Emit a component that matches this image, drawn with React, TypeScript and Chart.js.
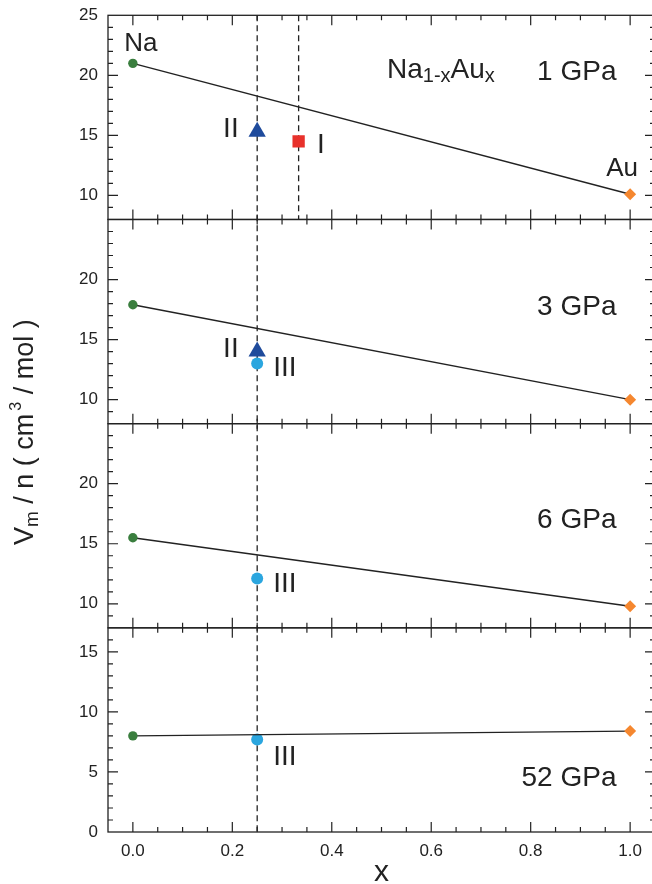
import React, { useEffect, useRef } from 'react';
import { Chart, registerables } from 'chart.js';

Chart.register(...registerables);

// ---- data ----
const panelLabels = ['1 GPa', '3 GPa', '6 GPa', '52 GPa'];
const panelYMin = [8, 8, 8, 0];
const panelYMax = [25, 25, 25, 17];
const panelYTicks = [
  [10, 15, 20, 25],
  [10, 15, 20],
  [10, 15, 20],
  [0, 5, 10, 15],
];
const xTickValues = [0, 0.2, 0.4, 0.6, 0.8, 1.0];

// end members (x = 0 is Na, x = 1 is Au)
const xNa = 0;
const xAu = 1;
const naVolume = [21.0, 17.9, 15.5, 8.0];
const auVolume = [10.1, 10.0, 9.8, 8.4];

// intermediate phases
const xPhaseI = 1 / 3;
const phaseIVolume = [14.5, null, null, null];
const xPhaseII = 0.25;
const phaseIIVolume = [15.3, 14.0, null, null];
const xPhaseIII = 0.25;
const phaseIIIVolume = [null, 13.0, 12.1, 7.7];

// composition guide lines and the last panel each one reaches
const guideX = [0.25, 1 / 3];
const guideLastPanel = [3, 0];

// ---- style ----
const FONT = "'Liberation Sans', Arial, Helvetica, sans-serif";
const INK = '#222222';
const naColor = '#3a7e3e';
const auColor = '#f5872f';
const phaseIColor = '#e8312b';
const phaseIIColor = '#1f4b9c';
const phaseIIIColor = '#2ba6df';

const panelId = (p: number) => `y${p}`;

type Note = { panel: number; text: string; x: number; y: number; dx: number; dy: number; align: CanvasTextAlign; size: number };

const notes: Note[] = [
  { panel: 0, text: 'Na', x: xNa, y: naVolume[0], dx: 8, dy: -12.5, align: 'center', size: 26 },
  { panel: 0, text: 'Au', x: xAu, y: auVolume[0], dx: -8, dy: -18, align: 'center', size: 26 },
  { panel: 0, text: 'II', x: xPhaseII, y: phaseIIVolume[0] as number, dx: -18.5, dy: 5, align: 'right', size: 28 },
  { panel: 0, text: 'I', x: xPhaseI, y: phaseIVolume[0] as number, dx: 18.5, dy: 11.5, align: 'left', size: 28 },
  { panel: 1, text: 'II', x: xPhaseII, y: phaseIIVolume[1] as number, dx: -18.5, dy: 5, align: 'right', size: 28 },
  { panel: 1, text: 'III', x: xPhaseIII, y: phaseIIIVolume[1] as number, dx: 16, dy: 12, align: 'left', size: 28 },
  { panel: 2, text: 'III', x: xPhaseIII, y: phaseIIIVolume[2] as number, dx: 16, dy: 13.5, align: 'left', size: 28 },
  { panel: 3, text: 'III', x: xPhaseIII, y: phaseIIIVolume[3] as number, dx: 16, dy: 25, align: 'left', size: 28 },
];

// baseline of each pressure label measured from its panel top
const panelLabelBaseline = [64.7, 95.7, 104.5, 158.4];

function buildDatasets() {
  const sets: any[] = [];
  panelLabels.forEach((_, p) => {
    sets.push({
      label: `tie line ${panelLabels[p]}`,
      data: [
        { x: xNa, y: naVolume[p] },
        { x: xAu, y: auVolume[p] },
      ],
      yAxisID: panelId(p),
      showLine: true,
      borderColor: INK,
      borderWidth: 1.4,
      pointStyle: ['circle', 'rectRot'],
      pointRadius: [4.7, 6],
      pointBackgroundColor: [naColor, auColor],
      pointBorderWidth: 0,
    });
    const phase = (x: number, vals: (number | null)[], style: string, r: number, color: string, name: string) => {
      const v = vals[p];
      if (v == null) return;
      sets.push({
        label: `${name} ${panelLabels[p]}`,
        data: [{ x, y: v }],
        yAxisID: panelId(p),
        showLine: false,
        pointStyle: style,
        pointRadius: r,
        pointBackgroundColor: color,
        pointBorderWidth: 0,
      });
    };
    phase(xPhaseIII, phaseIIIVolume, 'circle', 6, phaseIIIColor, 'III');
    phase(xPhaseII, phaseIIVolume, 'triangle', 10, phaseIIColor, 'II');
    phase(xPhaseI, phaseIVolume, 'rect', 8.7, phaseIColor, 'I');
  });
  return sets;
}

function buildScales() {
  const scales: any = {
    x: {
      type: 'linear',
      position: 'bottom',
      min: -0.05,
      max: 1.05,
      grid: { display: false, drawTicks: false },
      border: { display: false },
      ticks: {
        autoSkip: false,
        maxRotation: 0,
        padding: 9,
        color: INK,
        font: { family: FONT, size: 17 },
        callback: (v: any) => Number(v).toFixed(1),
      },
      afterBuildTicks: (s: any) => {
        s.ticks = xTickValues.map((value) => ({ value }));
      },
      afterFit: (s: any) => {
        s.height = 52;
        s.paddingLeft = 0;
        s.paddingRight = 0;
      },
    },
  };
  // later-declared left axes are placed higher in the stack
  for (let p = panelLabels.length - 1; p >= 0; p--) {
    scales[panelId(p)] = {
      type: 'linear',
      position: 'left',
      stack: 'panels',
      stackWeight: 1,
      offset: false,
      min: panelYMin[p],
      max: panelYMax[p],
      grid: { display: false, drawTicks: false },
      border: { display: false },
      ticks: {
        autoSkip: false,
        padding: 10,
        color: INK,
        font: { family: FONT, size: 17 },
      },
      afterBuildTicks: (s: any) => {
        s.ticks = panelYTicks[p].map((value) => ({ value }));
      },
      afterFit: (s: any) => {
        s.width = 108;
        s.paddingTop = 0;
        s.paddingBottom = 0;
      },
    };
  }
  return scales;
}

const panelFrame = {
  id: 'panelFrame',
  beforeDatasetsDraw(chart: any) {
    const { ctx, chartArea: ca, scales } = chart;
    const xs = scales.x;
    ctx.save();
    // dashed composition guides
    ctx.strokeStyle = INK;
    ctx.lineWidth = 1.3;
    ctx.setLineDash([6, 4]);
    guideX.forEach((gx, i) => {
      const px = xs.getPixelForValue(gx);
      const bottom = scales[panelId(guideLastPanel[i])].bottom;
      ctx.beginPath();
      ctx.moveTo(px, ca.top);
      ctx.lineTo(px, bottom);
      ctx.stroke();
    });
    ctx.setLineDash([]);
    ctx.restore();
  },
  afterDatasetsDraw(chart: any) {
    const { ctx, chartArea: ca, scales } = chart;
    const xs = scales.x;
    ctx.save();
    ctx.strokeStyle = INK;
    ctx.lineWidth = 1.3;
    // frames
    panelLabels.forEach((_, p) => {
      const ys = scales[panelId(p)];
      ctx.strokeRect(ca.left, ys.top, ca.right - ca.left, ys.bottom - ys.top);
    });
    // inward ticks
    ctx.lineWidth = 1.2;
    ctx.beginPath();
    panelLabels.forEach((_, p) => {
      const ys = scales[panelId(p)];
      for (let v = panelYMin[p] + 1; v < panelYMax[p]; v++) {
        const py = ys.getPixelForValue(v);
        const len = v % 5 === 0 ? 10 : 5;
        ctx.moveTo(ca.left, py);
        ctx.lineTo(ca.left + len, py);
        ctx.moveTo(ca.right, py);
        ctx.lineTo(ca.right - len, py);
      }
      for (let i = 0; i <= 20; i++) {
        const px = xs.getPixelForValue(i * 0.05);
        const len = i % 4 === 0 ? 10 : 5;
        ctx.moveTo(px, ys.top);
        ctx.lineTo(px, ys.top + len);
        ctx.moveTo(px, ys.bottom);
        ctx.lineTo(px, ys.bottom - len);
      }
    });
    ctx.stroke();

    ctx.fillStyle = INK;
    ctx.textBaseline = 'alphabetic';
    // point annotations
    notes.forEach((n) => {
      const ys = scales[panelId(n.panel)];
      ctx.font = `${n.size}px ${FONT}`;
      ctx.textAlign = n.align;
      ctx.fillText(n.text, xs.getPixelForValue(n.x) + n.dx, ys.getPixelForValue(n.y) + n.dy);
    });
    // pressure labels
    ctx.font = `28px ${FONT}`;
    ctx.textAlign = 'right';
    panelLabels.forEach((label, p) => {
      const ys = scales[panelId(p)];
      ctx.fillText(label, ca.right - 38.5, ys.top + panelLabelBaseline[p]);
    });
    // compound formula Na(1-x)Au(x)
    ctx.textAlign = 'left';
    const baseY = scales[panelId(0)].top + 63;
    let cx = ca.right - 268;
    const seg = (t: string, size: number, dy: number) => {
      ctx.font = `${size}px ${FONT}`;
      ctx.fillText(t, cx, baseY + dy);
      cx += ctx.measureText(t).width;
    };
    seg('Na', 28, 0);
    seg('1-x', 20, 4);
    seg('Au', 28, 0);
    seg('x', 20, 4);

    // x axis title
    ctx.font = `30px ${FONT}`;
    ctx.textAlign = 'center';
    ctx.fillText('x', xs.getPixelForValue(0.5), 880.5);

    // y axis title, rotated
    ctx.save();
    ctx.translate(33, 545);
    ctx.rotate(-Math.PI / 2);
    ctx.textAlign = 'left';
    let tx = 0;
    const rseg = (t: string, size: number, dy: number, gap = 0) => {
      tx += gap;
      ctx.font = `${size}px ${FONT}`;
      ctx.fillText(t, tx, dy);
      tx += ctx.measureText(t).width;
    };
    rseg('V', 27, 0);
    rseg('m', 19, 5);
    rseg(' / n ( cm', 27, 0);
    rseg('3', 16, -12, 3);
    rseg(' / mol )', 27, 0);
    ctx.restore();

    ctx.restore();
  },
};

export default function App() {
  const ref = useRef<HTMLCanvasElement | null>(null);
  useEffect(() => {
    if (!ref.current) return;
    const chart = new Chart(ref.current, {
      type: 'scatter',
      data: { datasets: buildDatasets() },
      options: {
        animation: false,
        responsive: false,
        devicePixelRatio: 1,
        layout: { padding: { top: 15.3, right: 7, left: 0, bottom: 0 } },
        plugins: { legend: { display: false }, tooltip: { enabled: false } },
        scales: buildScales(),
      } as any,
      plugins: [panelFrame],
    });
    return () => chart.destroy();
  }, []);
  return (
    <div style={{ position: 'absolute', left: 0, top: 0, width: 652, height: 884, overflow: 'hidden', background: '#fff' }}>
      <canvas ref={ref} width={665} height={884} style={{ display: 'block' }} />
    </div>
  );
}
